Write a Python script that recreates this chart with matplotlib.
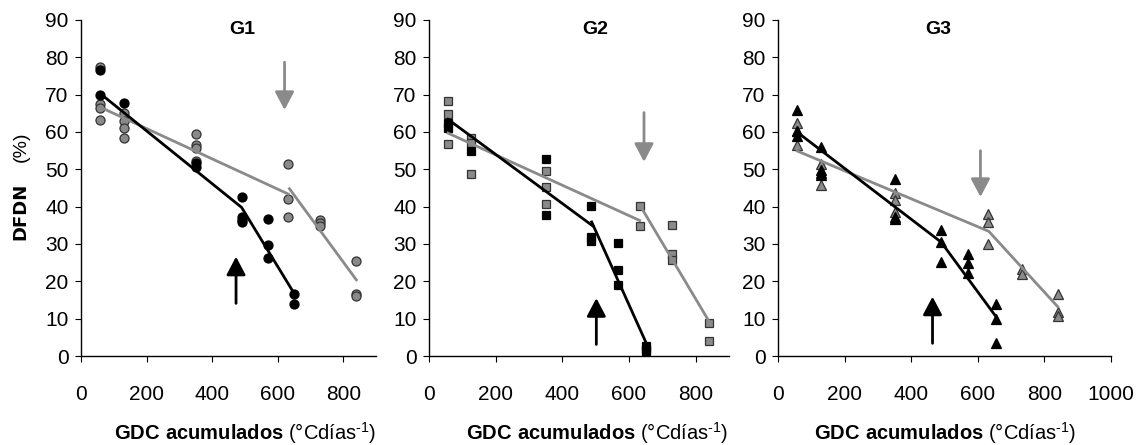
import matplotlib
matplotlib.use("Agg")
import matplotlib.pyplot as plt

plt.rcParams['font.family'] = ['Liberation Sans', 'DejaVu Sans']
plt.rcParams['mathtext.fontset'] = 'custom'
plt.rcParams['mathtext.rm'] = 'Liberation Sans'
plt.rcParams['mathtext.bf'] = 'Liberation Sans:bold'

GRAY = '#8a8a8a'

# G1 (circles)
g1_blk_x = [58, 58, 130, 350, 350, 490, 490, 490, 490, 570, 570, 570, 650, 650]
g1_blk_y = [76.5, 70, 67.7, 50.7, 51.6, 42.5, 37.3, 36.4, 35.8, 36.6, 29.7, 26.3, 16.6, 13.9]
g1_gry_x = [58, 58, 58, 58, 130, 130, 130, 130, 350, 350, 350, 350, 630, 630, 630, 730, 730, 730, 840, 840, 840]
g1_gry_y = [77.5, 67.5, 66.3, 63.2, 65, 63, 61, 58.3, 59.5, 56.4, 55.6, 52.2, 51.3, 42, 37.3, 36.3, 35.5, 34.8, 25.5, 16.6, 16.1]
g1_blk_line_x = [[60, 490, 650]]
g1_blk_line_y = [[70.2, 39.8, 16.8]]
g1_gry_line_x = [[60, 632], [636, 840]]
g1_gry_line_y = [[66.6, 43.4], [44.8, 20.4]]

# G2 (squares)
g2_blk_x = [57, 57, 127, 350, 350, 485, 485, 485, 567, 567, 567, 650, 650, 650]
g2_blk_y = [62.5, 61, 55, 52.7, 37.9, 40.2, 31.9, 30.8, 30.4, 23, 19.1, 2.7, 1.8, 1.3]
g2_gry_x = [57, 57, 57, 127, 127, 127, 350, 350, 350, 632, 632, 730, 730, 730, 840, 840]
g2_gry_y = [68.4, 64.7, 56.9, 58.5, 57, 48.8, 49.5, 45.4, 40.6, 40.2, 34.8, 35.2, 27.3, 25.7, 8.9, 4]
g2_blk_line_x = [[57, 492], [488, 650]]
g2_blk_line_y = [[63.4, 34.8], [35.9, 3.8]]
g2_gry_line_x = [[57, 632], [634, 840]]
g2_gry_line_y = [[59.7, 36.3], [40.2, 9.3]]

# G3 (triangles)
g3_blk_x = [58, 58, 58, 130, 130, 130, 130, 350, 350, 350, 490, 490, 490, 572, 572, 572, 655, 655, 655]
g3_blk_y = [66, 60.2, 59, 55.9, 49.7, 49.1, 48.4, 47.5, 37.2, 36.8, 33.8, 30.5, 25.2, 27.4, 24.8, 22.3, 13.9, 9.8, 3.4]
g3_gry_x = [58, 58, 58, 130, 130, 350, 350, 350, 630, 630, 630, 733, 733, 840, 840, 840]
g3_gry_y = [62.3, 60.4, 56.6, 51.5, 45.7, 43.7, 41.9, 38.6, 38.1, 35.9, 30.1, 23.2, 21.9, 16.7, 11.8, 10.7]
g3_blk_line_x = [[60, 490, 655]]
g3_blk_line_y = [[59.8, 30.5, 10.5]]
g3_gry_line_x = [[58, 633, 840]]
g3_gry_line_y = [[54.9, 33.4, 13.2]]

# arrows: (x, y_start, y_end)
arrows_gray = [(621, 78.7, 65.9), (645, 65.2, 52.0), (608, 55.0, 42.6)]
arrows_blk = [(473, 14.1, 26.6), (502, 3.1, 15.5), (464, 3.4, 15.9)]

titles = ['G1', 'G2', 'G3']
xmax = [900, 900, 1000]
markers = ['o', 's', '^']
msizes = [6.5, 6.0, 7.5]

groups = [
    (g1_blk_x, g1_blk_y, g1_gry_x, g1_gry_y, g1_blk_line_x, g1_blk_line_y, g1_gry_line_x, g1_gry_line_y),
    (g2_blk_x, g2_blk_y, g2_gry_x, g2_gry_y, g2_blk_line_x, g2_blk_line_y, g2_gry_line_x, g2_gry_line_y),
    (g3_blk_x, g3_blk_y, g3_gry_x, g3_gry_y, g3_blk_line_x, g3_blk_line_y, g3_gry_line_x, g3_gry_line_y),
]

fig = plt.figure(figsize=(11.48, 4.45), dpi=100)
W, H = 1148.0, 445.0
lefts = [81, 429, 778]
widths = [295, 300, 333]
top, bot = 20, 356
label_cx = [245, 597, 945]
title_cx = [242, 595, 938]

arrow_style = '-|>,head_width=0.58,head_length=1.1'

for i in range(3):
    ax = fig.add_axes([lefts[i] / W, (H - bot) / H, widths[i] / W, (bot - top) / H])
    bx, by, gx, gy, blx, bly, glx, gly = groups[i]
    mk = markers[i]
    ms = msizes[i]
    for lx, ly in zip(glx, gly):
        ax.plot(lx, ly, color=GRAY, lw=2.0, zorder=3)
    for lx, ly in zip(blx, bly):
        ax.plot(lx, ly, color='black', lw=2.0, zorder=4)
    ax.plot(gx, gy, ls='none', marker=mk, ms=ms, mfc=GRAY, mec='#333333', mew=0.9, zorder=2)
    ax.plot(bx, by, ls='none', marker=mk, ms=ms, mfc='black', mec='black', mew=0.9, zorder=2)

    x, y0, y1 = arrows_gray[i]
    ax.annotate('', xy=(x, y1), xytext=(x, y0),
                arrowprops=dict(arrowstyle=arrow_style, color=GRAY, lw=2.0, shrinkA=0, shrinkB=0))
    x, y0, y1 = arrows_blk[i]
    ax.annotate('', xy=(x, y1), xytext=(x, y0),
                arrowprops=dict(arrowstyle=arrow_style, color='black', lw=2.0, shrinkA=0, shrinkB=0))

    ax.set_xlim(0, xmax[i])
    ax.set_ylim(0, 90)
    ax.set_xticks(range(0, xmax[i] + 1, 200))
    ax.set_yticks(range(0, 91, 10))
    ax.spines['top'].set_visible(False)
    ax.spines['right'].set_visible(False)
    for s in ['left', 'bottom']:
        ax.spines[s].set_linewidth(1.0)
    ax.tick_params(axis='x', direction='out', length=4, pad=17, labelsize=15)
    ax.tick_params(axis='y', direction='out', length=4, pad=5, labelsize=15)

    fig.text(title_cx[i] / W, 1 - 29 / H, titles[i], ha='center', va='center',
             fontsize=14, fontweight='bold')
    fig.text(label_cx[i] / W, 1 - 433 / H,
             r'$\mathbf{GDC\ acumulados}$ (°Cdías$^{\text{-}1}$)', ha='center', va='center', fontsize=14.5)

fig.text(20 / W, 1 - 211 / H, 'DFDN', rotation=90, ha='center', va='center',
         fontsize=13, fontweight='bold', family='DejaVu Sans')
fig.text(21 / W, 1 - 147 / H, '(%)', rotation=90, ha='center', va='center', fontsize=14)

fig.savefig('out.png', dpi=100)
